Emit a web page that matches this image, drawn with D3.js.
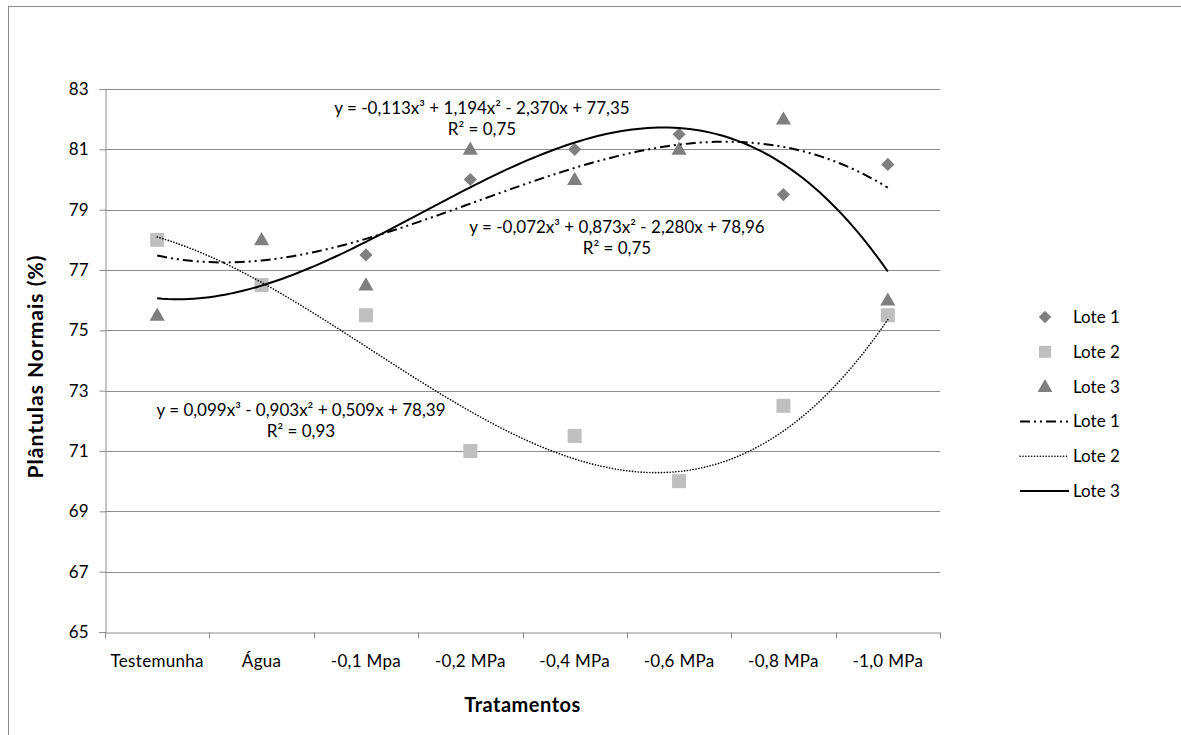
<!DOCTYPE html>
<html>
<head>
<meta charset="utf-8">
<script src="https://cdn.jsdelivr.net/npm/d3@7"></script>
<style>
  body { margin: 0; background: #fff; }
  text { font-family: Lato, "Open Sans", sans-serif; fill: #000; }
</style>
</head>
<body>
<script>
// categories and values
var categories = ["Testemunha", "Água", "-0,1 Mpa", "-0,2 MPa", "-0,4 MPa", "-0,6 MPa", "-0,8 MPa", "-1,0 MPa"]
var lote1 = [78, 76.5, 77.5, 80, 81, 81.5, 79.5, 80.5]
var lote2 = [78, 76.5, 75.5, 71, 71.5, 70, 72.5, 75.5]
var lote3 = [75.5, 78, 76.5, 81, 80, 81, 82, 76]
var yTicks = [65, 67, 69, 71, 73, 75, 77, 79, 81, 83]

// polynomial trend lines (a x^3 + b x^2 + c x + d), as printed on the chart
var fit1 = [-0.072, 0.873, -2.280, 78.96]
var fit2 = [0.099, -0.903, 0.509, 78.39]
var fit3 = [-0.113, 1.194, -2.370, 77.35]
var eq1 = ["y = -0,072x³ + 0,873x² - 2,280x + 78,96", "R² = 0,75"]
var eq2 = ["y = 0,099x³ - 0,903x² + 0,509x + 78,39", "R² = 0,93"]
var eq3 = ["y = -0,113x³ + 1,194x² - 2,370x + 77,35", "R² = 0,75"]

var width = 1181, height = 735
var margin = {top: 89, left: 105, right: 241, bottom: 103}
var plotW = width - margin.left - margin.right
var plotH = height - margin.top - margin.bottom

var svg = d3.select("body").append("svg")
  .attr("width", width)
  .attr("height", height)

// outer frame (bottom and right run off the picture)
svg.append("rect")
  .attr("x", 8.5).attr("y", 6.5)
  .attr("width", 1180).attr("height", 740)
  .attr("fill", "none")
  .attr("stroke", "#8c8c8c")

var g = svg.append("g")
  .attr("transform", "translate(" + margin.left + "," + margin.top + ")")

var x = d3.scaleBand().domain(categories).range([0, plotW])
var y = d3.scaleLinear().domain([65, 83]).range([plotH, 0])
var xFit = d3.scaleLinear().domain([1, categories.length])
  .range([x(categories[0]) + x.bandwidth() / 2, x(categories[categories.length - 1]) + x.bandwidth() / 2])

// gridlines
g.selectAll(".grid")
  .data(yTicks.slice(1))
  .enter().append("line")
  .attr("x1", 0).attr("x2", plotW)
  .attr("y1", function(d) { return Math.round(y(d)) + 0.5 })
  .attr("y2", function(d) { return Math.round(y(d)) + 0.5 })
  .attr("stroke", "#8c8c8c")

// y axis
var yAxis = g.append("g")
  .attr("transform", "translate(0.5,0)")
  .call(d3.axisLeft(y).tickValues(yTicks).tickSize(6).tickPadding(11))
yAxis.selectAll("path, line").attr("stroke", "#8c8c8c")
yAxis.selectAll("text").style("font-size", "17px").style("font-family", "Lato, sans-serif")

// x axis
var xAxis = g.append("g")
  .attr("transform", "translate(0," + (Math.round(plotH) + 0.5) + ")")
  .call(d3.axisBottom(x).tickSize(0).tickPadding(22))
xAxis.select("path").attr("stroke", "#8c8c8c")
xAxis.selectAll("text")
  .style("font-size", "17px")
  .style("letter-spacing", "0.3px")
  .style("font-family", "Lato, sans-serif")
// category boundary ticks
xAxis.selectAll(".btick")
  .data(d3.range(categories.length + 1))
  .enter().append("line")
  .attr("x1", function(i) { return Math.round(i * x.step()) + 0.5 })
  .attr("x2", function(i) { return Math.round(i * x.step()) + 0.5 })
  .attr("y1", 0).attr("y2", 6)
  .attr("stroke", "#8c8c8c")

// axis titles
svg.append("text")
  .attr("x", margin.left + plotW / 2)
  .attr("y", 712)
  .attr("text-anchor", "middle")
  .style("font-size", "20px")
  .style("letter-spacing", "0.5px")
  .style("font-weight", "bold")
  .text("Tratamentos")

svg.append("text")
  .attr("transform", "translate(43," + (margin.top + plotH / 2 + 6) + ") rotate(-90)")
  .attr("text-anchor", "middle")
  .style("font-size", "21px")
  .style("letter-spacing", "1px")
  .style("font-weight", "bold")
  .text("Plântulas Normais (%)")

// trend lines
function poly(c) {
  return function(t) { return c[0] * t * t * t + c[1] * t * t + c[2] * t + c[3] }
}
var ts = d3.range(1, categories.length + 0.001, 0.05)
var line = d3.line()
  .x(function(t) { return xFit(t) })

var trends = [
  {c: fit1, dash: "10,4,2,4,2,4", w: 2, cap: "butt"},
  {c: fit2, dash: "0.1,2.8", w: 1.6, cap: "round"},
  {c: fit3, dash: null, w: 2, cap: "butt"}
]

// markers
var cx = function(d, i) { return x(categories[i]) + x.bandwidth() / 2 }

g.selectAll(".l1")
  .data(lote1)
  .enter().append("path")
  .attr("d", d3.symbol().type(d3.symbolDiamond2).size(110))
  .attr("transform", function(d, i) { return "translate(" + cx(d, i) + "," + y(d) + ")" })
  .attr("fill", "#7f7f7f")

g.selectAll(".l2")
  .data(lote2)
  .enter().append("rect")
  .attr("x", function(d, i) { return cx(d, i) - 7 })
  .attr("y", function(d) { return y(d) - 7 })
  .attr("width", 14).attr("height", 14)
  .attr("fill", "#bfbfbf")

g.selectAll(".l3")
  .data(lote3)
  .enter().append("path")
  .attr("d", d3.symbol().type(d3.symbolTriangle).size(100))
  .attr("transform", function(d, i) { return "translate(" + cx(d, i) + "," + (y(d) + 1) + ")" })
  .attr("fill", "#7f7f7f")

trends.forEach(function(tr) {
  var f = poly(tr.c)
  g.append("path")
    .datum(ts)
    .attr("d", line.y(function(t) { return y(f(t)) }))
    .attr("fill", "none")
    .attr("stroke", "#000")
    .attr("stroke-width", tr.w)
    .attr("stroke-linecap", tr.cap)
    .attr("stroke-dasharray", tr.dash)
})

// equation labels
function addEq(lines, cxp, cyp) {
  lines.forEach(function(s, i) {
    svg.append("text")
      .attr("x", cxp)
      .attr("y", cyp + i * 21)
      .attr("text-anchor", "middle")
      .style("font-size", "17px")
      .text(s)
  })
}
addEq(eq3, 482, 114)
addEq(eq1, 617, 233)
addEq(eq2, 301, 416)

// legend
var legendItems = [
  {name: "Lote 1", kind: "diamond"},
  {name: "Lote 2", kind: "square"},
  {name: "Lote 3", kind: "triangle"},
  {name: "Lote 1", kind: "line", t: trends[0]},
  {name: "Lote 2", kind: "line", t: trends[1]},
  {name: "Lote 3", kind: "line", t: trends[2]}
]
var legend = svg.append("g")
legendItems.forEach(function(d, i) {
  var ly = 317 + i * 34.8
  if (d.kind == "diamond") {
    legend.append("path")
      .attr("d", d3.symbol().type(d3.symbolDiamond2).size(100))
      .attr("transform", "translate(1045," + ly + ")")
      .attr("fill", "#7f7f7f")
  } else if (d.kind == "square") {
    legend.append("rect")
      .attr("x", 1039).attr("y", ly - 6)
      .attr("width", 12).attr("height", 12)
      .attr("fill", "#bfbfbf")
  } else if (d.kind == "triangle") {
    legend.append("path")
      .attr("d", d3.symbol().type(d3.symbolTriangle).size(95))
      .attr("transform", "translate(1045," + (ly + 1) + ")")
      .attr("fill", "#7f7f7f")
  } else {
    legend.append("line")
      .attr("x1", 1020).attr("x2", 1069)
      .attr("y1", ly).attr("y2", ly)
      .attr("stroke", "#000")
      .attr("stroke-width", d.t.w)
      .attr("stroke-linecap", d.t.cap)
      .attr("stroke-dasharray", d.t.dash)
  }
  legend.append("text")
    .attr("x", 1073)
    .attr("y", ly + 6)
    .style("font-size", "17px")
    .text(d.name)
})
</script>
</body>
</html>
